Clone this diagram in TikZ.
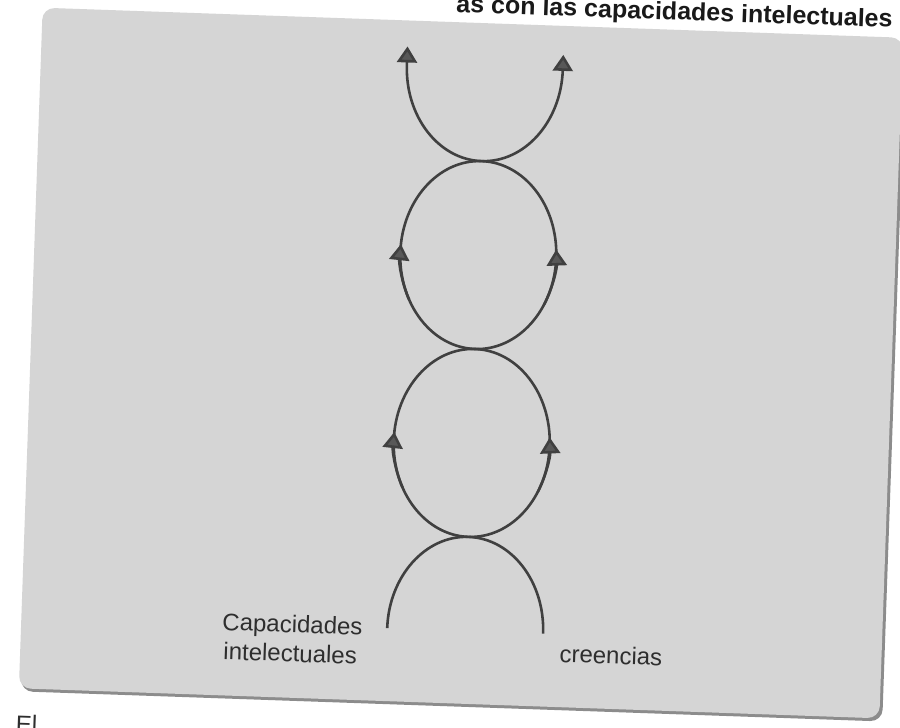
\documentclass[tikz,border=0pt]{standalone}
\usepackage{fontspec}
\setmainfont{Liberation Sans}
\usetikzlibrary{arrows.meta}
\definecolor{panelgray}{HTML}{D5D5D5}
\definecolor{shadowgray}{HTML}{8C8C8C}
\definecolor{inkgray}{HTML}{404040}
\definecolor{tipgray}{HTML}{585858}
\definecolor{textgray}{HTML}{2E2E2E}
\begin{document}
\begin{tikzpicture}[x=1pt,y=1pt,
  loopline/.style={draw=inkgray,line width=2.6pt},
  uptip/.style={-{Triangle[width=20pt,length=16pt,fill=tipgray]}},
  lbl/.style={font=\fontsize{24}{28}\selectfont,text=textgray,inner sep=0pt,anchor=base west,transform shape},
  titlelbl/.style={font=\bfseries\fontsize{25}{30}\selectfont,text=black!90,inner sep=0pt,anchor=base east,transform shape}]
\useasboundingbox (0,0) rectangle (900,-728);
\fill[white] (0,0) rectangle (900,-728);
\begin{scope}[rotate around={-2:(475,-349)}]
  % page panel with shadow
  \fill[shadowgray,rounded corners=12pt] (33,-26) rectangle (895,-707);
  \fill[panelgray,rounded corners=12pt] (31,-23) rectangle (892,-704);
  % title and body text of the page
  \node[titlelbl] (title) at (881,-13) {as con las capacidades intelectuales};
  \node[lbl] (el) at (29,-748) {El};
  % key points
  \coordinate (t1) at (475,-161);
  \coordinate (t2) at (475,-349);
  \coordinate (t3) at (475,-537);
  \coordinate (c1) at (475,-255);
  \coordinate (c2) at (475,-443);
  % top open arc with arrows
  \draw[loopline,uptip] (t1) arc[start angle=270,end angle=180,x radius=78,y radius=94] -- ++(0,18);
  \draw[loopline,uptip] (t1) arc[start angle=270,end angle=360,x radius=78,y radius=94] -- ++(0,15);
  % upper circle
  \draw[loopline] (c1) ellipse[x radius=78,y radius=94];
  \draw[loopline,uptip] (c1) ++(330:78 and 94) arc[start angle=330,end angle=365,x radius=78,y radius=94];
  \draw[loopline,uptip] (c1) ++(210:78 and 94) arc[start angle=210,end angle=175,x radius=78,y radius=94];
  % lower circle
  \draw[loopline] (c2) ellipse[x radius=78,y radius=94];
  \draw[loopline,uptip] (c2) ++(330:78 and 94) arc[start angle=330,end angle=365,x radius=78,y radius=94];
  \draw[loopline,uptip] (c2) ++(210:78 and 94) arc[start angle=210,end angle=175,x radius=78,y radius=94];
  % bottom open arc
  \draw[loopline] (t3) arc[start angle=90,end angle=180,x radius=78,y radius=94];
  \draw[loopline] (t3) arc[start angle=90,end angle=0,x radius=78,y radius=94];
  % labels
  \node[lbl] (cap1) at (232,-639) {Capacidades};
  \node[lbl] (cap2) at (234,-668) {intelectuales};
  \node[lbl] (cre) at (570,-659) {creencias};
\end{scope}
\end{tikzpicture}
\end{document}
